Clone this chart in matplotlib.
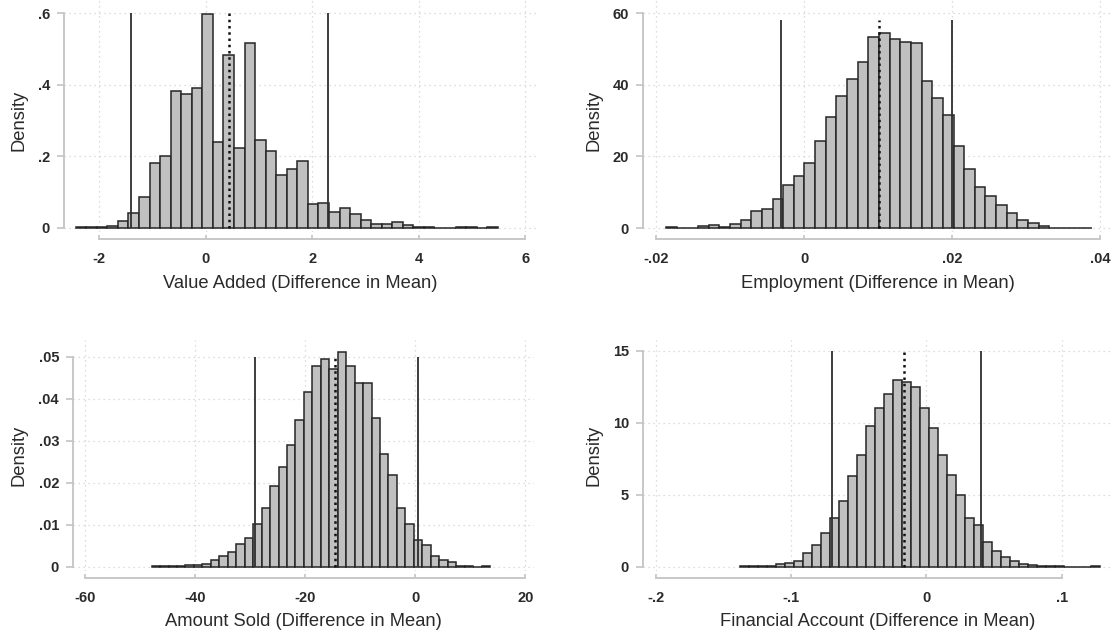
import matplotlib.pyplot as plt
import numpy as np

plt.rcParams['font.family'] = ['Liberation Sans', 'DejaVu Sans']
plt.rcParams['axes.unicode_minus'] = False

# Value Added: histogram of simulated differences in mean
va_start = -2.44
va_width = 0.198
va_density = [0.002, 0.002, 0.003, 0.006, 0.020, 0.041, 0.087, 0.182, 0.202, 0.382,
              0.375, 0.391, 0.599, 0.241, 0.482, 0.224, 0.518, 0.246, 0.216, 0.148,
              0.165, 0.186, 0.067, 0.070, 0.046, 0.056, 0.040, 0.022, 0.012, 0.010,
              0.016, 0.007, 0.003, 0.002, 0.001, 0.001, 0.002, 0.002, 0.0, 0.002]
va_ci = [-1.41, 2.30]
va_mean = 0.43

# Employment
em_start = -0.01862
em_width = 0.001437
em_density = [0.2, 0.1, 0.1, 0.6, 0.7, 0.4, 1.2, 2.2, 4.8, 5.2,
              8.1, 11.9, 14.6, 18.3, 24.2, 30.9, 36.9, 41.7, 46.5, 53.3,
              54.6, 52.8, 51.9, 51.6, 41.2, 36.2, 31.6, 23.0, 16.6, 11.6,
              8.9, 6.3, 4.1, 2.2, 1.5, 0.6, 0.1, 0.1, 0.1, 0.1]
em_ci = [-0.00306, 0.01997]
em_mean = 0.01008

# Amount Sold
as_start = -47.9
as_width = 1.5375
as_density = [0.00016, 0.00008, 0.00016, 0.00008, 0.0004, 0.00048, 0.00056, 0.0016, 0.00246, 0.00341,
              0.00532, 0.0069, 0.01008, 0.01389, 0.01929, 0.02365, 0.02889, 0.03492, 0.04151, 0.04786,
              0.04952, 0.04698, 0.05119, 0.04778, 0.04381, 0.04365, 0.03532, 0.02675, 0.02183, 0.01389,
              0.01024, 0.00627, 0.00516, 0.00254, 0.00159, 0.00103, 0.00024, 0.00016, 0.0, 0.00024]
as_ci = [-29.1, 0.55]
as_mean = -14.56

# Financial Account
fa_start = -0.1378
fa_width = 0.00666
fa_density = [0.05, 0.05, 0.02, 0.02, 0.16, 0.23, 0.37, 0.93, 1.53, 2.31,
              3.38, 4.56, 6.30, 7.75, 9.77, 11.0, 11.99, 12.96, 12.80, 12.50,
              11.0, 9.65, 7.75, 6.37, 5.0, 3.40, 2.89, 1.71, 1.09, 0.69,
              0.42, 0.16, 0.14, 0.05, 0.02, 0.05, 0.0, 0.0, 0.0, 0.07]
fa_ci = [-0.070, 0.040]
fa_mean = -0.017

W, H = 1116, 637
fig = plt.figure(figsize=(W / 100, H / 100), dpi=100)

TEXT = '#2a2a2a'
AXIS = '#c4c4c4'


def panel(box, xlim, ylim, start, width, dens, ci, mean, line_top,
          xticks, xlabels, yticks, ylabels, xlabel, xlab_y, ylab_x, ylab_y):
    x0, y0, x1, y1 = box
    ax = fig.add_axes([x0 / W, 1 - y1 / H, (x1 - x0) / W, (y1 - y0) / H])
    edges = start + width * np.arange(len(dens))
    ax.bar(edges, dens, width=width, align='edge', color='#c0c0c0',
           edgecolor='#262626', linewidth=1.1, zorder=2)

    # confidence bounds (solid) and observed difference (dotted)
    ax.vlines(ci, 0, line_top, color='#2e2e2e', linewidth=1.3, zorder=3)
    ax.vlines(mean, 0, line_top, color='#111111', linewidth=1.8,
              linestyles=(0, (1, 1.5)), zorder=3)

    ax.set_xlim(*xlim)
    ax.set_ylim(*ylim)
    ax.set_xticks(xticks, xlabels)
    ax.set_yticks(yticks, ylabels)
    ax.grid(True, linestyle=(0, (1, 3)), color='#d2d2d2', linewidth=0.9, zorder=0)
    ax.set_axisbelow(True)

    for s in ['top', 'right']:
        ax.spines[s].set_visible(False)
    ax.spines['bottom'].set_position(('outward', 5))
    ax.spines['bottom'].set_bounds(xticks[0], xticks[-1])
    ax.spines['left'].set_bounds(yticks[0], yticks[-1])
    for s in ['bottom', 'left']:
        ax.spines[s].set_color(AXIS)
        ax.spines[s].set_linewidth(1.3)

    ax.tick_params(axis='y', direction='out', length=5, width=1.2, color=AXIS, pad=5,
                   labelsize=10.5, labelcolor=TEXT)
    ax.tick_params(axis='x', direction='in', length=3, width=1.2, color=AXIS, pad=9.5,
                   labelsize=10.5, labelcolor=TEXT)
    for lab in ax.get_xticklabels() + ax.get_yticklabels():
        lab.set_fontweight('bold')

    fig.text((x0 + x1) / 2 / W, 1 - xlab_y / H, xlabel, ha='center', va='center',
             fontsize=13.2, color=TEXT)
    fig.text(ylab_x / W, 1 - ylab_y / H, 'Density', ha='center', va='center',
             rotation=90, fontsize=13.2, color=TEXT)
    return ax


panel((64, 0, 537, 232), (-2.66, 6.216), (-0.0112, 0.637),
      va_start, va_width, va_density, va_ci, va_mean, 0.6,
      [-2, 0, 2, 4, 6], ['-2', '0', '2', '4', '6'],
      [0, 0.2, 0.4, 0.6], ['0', '.2', '.4', '.6'],
      'Value Added (Difference in Mean)', 283, 19, 120)

panel((643, 0, 1112, 232), (-0.02173, 0.04157), (-1.118, 63.73),
      em_start, em_width, em_density, em_ci, em_mean, 58,
      [-0.02, 0, 0.02, 0.04], ['-.02', '0', '.02', '.04'],
      [0, 20, 40, 60], ['0', '20', '40', '60'],
      'Employment (Difference in Mean)', 283, 594, 120)

panel((73, 340, 534, 571), (-62.2, 21.6), (-0.00102, 0.054),
      as_start, as_width, as_density, as_ci, as_mean, 0.05,
      [-60, -40, -20, 0, 20], ['-60', '-40', '-20', '0', '20'],
      [0, 0.01, 0.02, 0.03, 0.04, 0.05], ['0', '.01', '.02', '.03', '.04', '.05'],
      'Amount Sold (Difference in Mean)', 622, 19, 455)

panel((643, 340, 1112, 571), (-0.2098, 0.1373), (-0.30, 15.74),
      fa_start, fa_width, fa_density, fa_ci, fa_mean, 15,
      [-0.2, -0.1, 0, 0.1], ['-.2', '-.1', '0', '.1'],
      [0, 5, 10, 15], ['0', '5', '10', '15'],
      'Financial Account (Difference in Mean)', 622, 594, 455)

fig.savefig('out.png', dpi=100)
